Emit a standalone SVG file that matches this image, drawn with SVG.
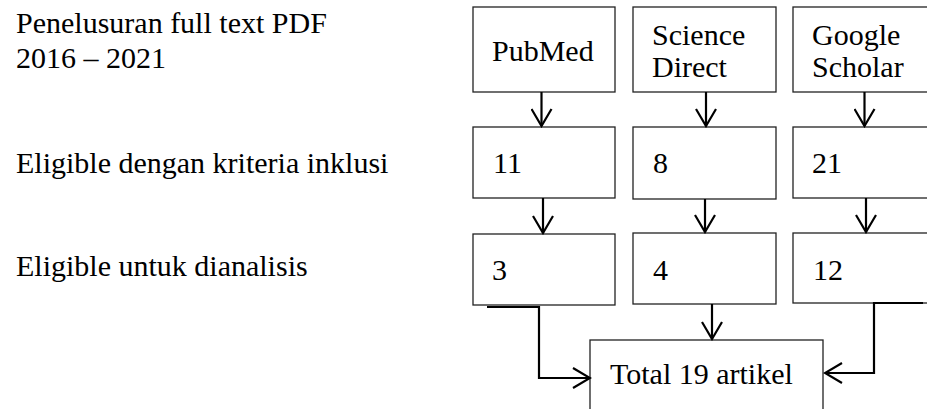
<svg xmlns="http://www.w3.org/2000/svg" width="927" height="409" viewBox="0 0 927 409">
<style>
text{font-family:"Liberation Serif","Times New Roman",serif;font-size:30px;fill:#000}
.box{fill:#fff;stroke:#222;stroke-width:1.3}
.con{fill:none;stroke:#000;stroke-width:2.2}
</style>
<defs>
<marker id="ah" viewBox="0 0 20 22" refX="18" refY="11" markerWidth="20" markerHeight="22" markerUnits="userSpaceOnUse" orient="auto">
<path d="M1,1 L18,11 L1,21" fill="none" stroke="#000" stroke-width="2.2"/>
</marker>
</defs>
<rect width="927" height="409" fill="#fff"/>
<g id="labels">
<text x="16" y="33">Penelusuran full text PDF</text>
<text x="16" y="68">2016 – 2021</text>
<text x="16" y="173">Eligible dengan kriteria inklusi</text>
<text x="16" y="276">Eligible untuk dianalisis</text>
</g>
<g id="pubmed"><rect class="box" x="473" y="7" width="142" height="85"/><text x="492" y="61">PubMed</text></g>
<g id="sciencedirect"><rect class="box" x="633" y="7" width="143" height="85"/><text x="652" y="45">Science</text><text x="652" y="77">Direct</text></g>
<g id="googlescholar"><rect class="box" x="793" y="7" width="150" height="85"/><text x="812" y="45">Google</text><text x="812" y="77">Scholar</text></g>
<g id="pubmed-eligible"><rect class="box" x="473" y="127" width="142" height="71"/><text x="493" y="173">11</text></g>
<g id="science-eligible"><rect class="box" x="633" y="127" width="143" height="72"/><text x="653" y="173">8</text></g>
<g id="google-eligible"><rect class="box" x="793" y="127" width="150" height="71"/><text x="812" y="173">21</text></g>
<g id="pubmed-analysis"><rect class="box" x="473" y="234" width="142" height="71"/><text x="492" y="280">3</text></g>
<g id="science-analysis"><rect class="box" x="633" y="233" width="143" height="71"/><text x="653" y="280">4</text></g>
<g id="google-analysis"><rect class="box" x="793" y="233" width="150" height="70"/><text x="813" y="280">12</text></g>
<g id="total"><rect class="box" x="590" y="340" width="233" height="90"/><text x="610" y="384">Total 19 artikel</text></g>
<g id="connectors">
<line class="con" x1="541.5" y1="92" x2="541.5" y2="126" marker-end="url(#ah)"/>
<line class="con" x1="706" y1="92" x2="706" y2="126" marker-end="url(#ah)"/>
<line class="con" x1="864.5" y1="92" x2="864.5" y2="126" marker-end="url(#ah)"/>
<line class="con" x1="543" y1="198" x2="543" y2="233" marker-end="url(#ah)"/>
<line class="con" x1="705" y1="199" x2="705" y2="232" marker-end="url(#ah)"/>
<line class="con" x1="866" y1="198" x2="866" y2="232" marker-end="url(#ah)"/>
<line class="con" x1="712" y1="304" x2="712" y2="339" marker-end="url(#ah)"/>
<polyline class="con" points="487,307 539,307 539,378 590,378" marker-end="url(#ah)"/>
<polyline class="con" points="923,303 874,303 874,373 825,373" marker-end="url(#ah)"/>
</g>
</svg>
